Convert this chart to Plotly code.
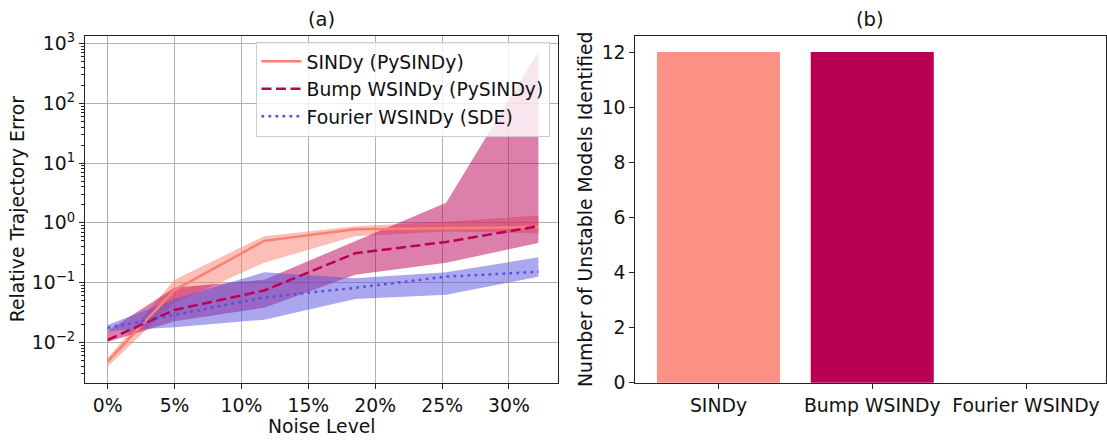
import plotly.graph_objects as go

# ---------------- data ----------------
noise_pct = [0, 5, 11.7, 18.5, 25.3, 32.2]

sindy_med = [0.0048, 0.075, 0.50, 0.78, 0.81, 0.85]
sindy_lo = [0.0039, 0.046, 0.215, 0.60, 0.72, 0.67]
sindy_hi = [0.0055, 0.112, 0.60, 0.88, 1.04, 1.33]

bump_med = [0.011, 0.035, 0.074, 0.31, 0.48, 0.88]
bump_lo = [0.0102, 0.0225, 0.038, 0.135, 0.215, 0.46]
bump_hi = [0.0155, 0.082, 0.112, 0.50, 2.18, 735]

fourier_med = [0.0175, 0.029, 0.0566, 0.082, 0.126, 0.152]
fourier_lo = [0.0155, 0.018, 0.024, 0.053, 0.0625, 0.126]
fourier_hi = [0.0195, 0.053, 0.149, 0.119, 0.149, 0.266]

methods = ["SINDy", "Bump WSINDy", "Fourier WSINDy"]
unstable_counts = [12, 12, 0]

legend_names = ["SINDy (PySINDy)", "Bump WSINDy (PySINDy)", "Fourier WSINDy (SDE)"]
x_tick_vals = [0, 5, 10, 15, 20, 25, 30]
x_tick_text = ["0%", "5%", "10%", "15%", "20%", "25%", "30%"]
y_tick_vals = [1e-2, 1e-1, 1e0, 1e1, 1e2, 1e3]
y_tick_text = ["10<sup>−2</sup>", "10<sup>−1</sup>", "10<sup>0</sup>",
               "10<sup>1</sup>", "10<sup>2</sup>", "10<sup>3</sup>"]
bar_tick_vals = [0, 2, 4, 6, 8, 10, 12]

# ---------------- style ----------------
W, H = 1107, 444
FONT = "DejaVu Sans"
FS = 18.8
c_sindy = "#FA8072"
c_bump = "#BA0055"
c_four = "#5550DD"
bar_colors = ["#FB9185", "#BA0055", "#5550DD"]
fill_alpha = 0.5


def rgba(hexc, a):
    h = hexc.lstrip("#")
    r, g, b = int(h[0:2], 16), int(h[2:4], 16), int(h[4:6], 16)
    return f"rgba({r},{g},{b},{a})"


def px_x(p):
    return p / W


def px_y(p):
    return 1 - p / H


fig = go.Figure()

# bands
for lo, hi, col in [(sindy_lo, sindy_hi, c_sindy),
                    (bump_lo, bump_hi, c_bump),
                    (fourier_lo, fourier_hi, c_four)]:
    fig.add_trace(go.Scatter(
        x=list(noise_pct) + list(noise_pct[::-1]),
        y=list(hi) + list(lo[::-1]),
        fill="toself", fillcolor=rgba(col, fill_alpha),
        line=dict(width=0), mode="lines", hoverinfo="skip",
        showlegend=False, xaxis="x", yaxis="y"))

# lines
for med, col, dash, name, grp in [(sindy_med, c_sindy, "solid", legend_names[0], "a"),
                                  (bump_med, c_bump, "10px,4.5px", legend_names[1], "b"),
                                  (fourier_med, c_four, "2.7px,4.3px", legend_names[2], "c")]:
    fig.add_trace(go.Scatter(
        x=noise_pct, y=med, mode="lines", name=name, legendgroup=grp,
        line=dict(color=col, width=2.5, dash=dash),
        xaxis="x", yaxis="y"))

# bars
fig.add_trace(go.Bar(
    x=list(range(len(methods))), y=unstable_counts, width=0.8,
    marker=dict(color=bar_colors, line=dict(width=0)),
    showlegend=False, xaxis="x2", yaxis="y2"))

minor_vals = [m * 10 ** e for e in range(-3, 4) for m in range(2, 10)]

axis_common = dict(showline=True, linecolor="#222", linewidth=1.2, mirror=True,
                   ticks="outside", ticklen=5, tickwidth=1.1, tickcolor="#222",
                   tickfont=dict(family=FONT, size=FS, color="#111"),
                   zeroline=False)

fig.update_layout(
    width=W, height=H,
    margin=dict(l=0, r=0, t=0, b=0),
    paper_bgcolor="white", plot_bgcolor="white",
    font=dict(family=FONT, size=FS, color="#111"),
    xaxis=dict(domain=[px_x(85), px_x(559)], range=[-1.7, 33.7],
               tickvals=x_tick_vals, ticktext=x_tick_text,
               showgrid=True, gridcolor="#b0b0b0", gridwidth=1,
               title=dict(text="Noise Level", font=dict(family=FONT, size=FS), standoff=3),
               anchor="y", **axis_common),
    yaxis=dict(domain=[px_y(392), px_y(31.7)], type="log", range=[-2.677, 3.134],
               tickvals=y_tick_vals, ticktext=y_tick_text,
               showgrid=True, gridcolor="#b0b0b0", gridwidth=1,
               minor=dict(tickvals=minor_vals, ticks="outside", ticklen=2.5,
                          tickwidth=0.8, tickcolor="#222", showgrid=False),
               title=dict(text="Relative Trajectory Error", font=dict(family=FONT, size=FS), standoff=2),
               anchor="x", **axis_common),
    xaxis2=dict(domain=[px_x(636), 1.0], range=[-0.54, 2.52],
                tickvals=list(range(len(methods))), ticktext=methods,
                showgrid=False, anchor="y2", **axis_common),
    yaxis2=dict(domain=[px_y(392), px_y(31.7)], range=[0, 12.6],
                tickvals=bar_tick_vals, showgrid=False,
                title=dict(text="Number of Unstable Models Identified",
                           font=dict(family=FONT, size=FS), standoff=4),
                anchor="x2", **axis_common),
    legend=dict(x=px_x(550), xanchor="right", y=px_y(38), yanchor="top",
                bgcolor="rgba(255,255,255,0.8)", bordercolor="#cccccc", borderwidth=1,
                font=dict(family=FONT, size=FS, color="#111"),
                tracegroupgap=0, itemwidth=40),
    bargap=0.2,
    annotations=[
        dict(text="(a)", x=px_x(322), y=px_y(15), xref="paper", yref="paper",
             showarrow=False, font=dict(family=FONT, size=19.5, color="#111"),
             xanchor="center", yanchor="middle"),
        dict(text="(b)", x=px_x(871), y=px_y(15), xref="paper", yref="paper",
             showarrow=False, font=dict(family=FONT, size=19.5, color="#111"),
             xanchor="center", yanchor="middle"),
    ],
)

fig.write_html("out.html")
